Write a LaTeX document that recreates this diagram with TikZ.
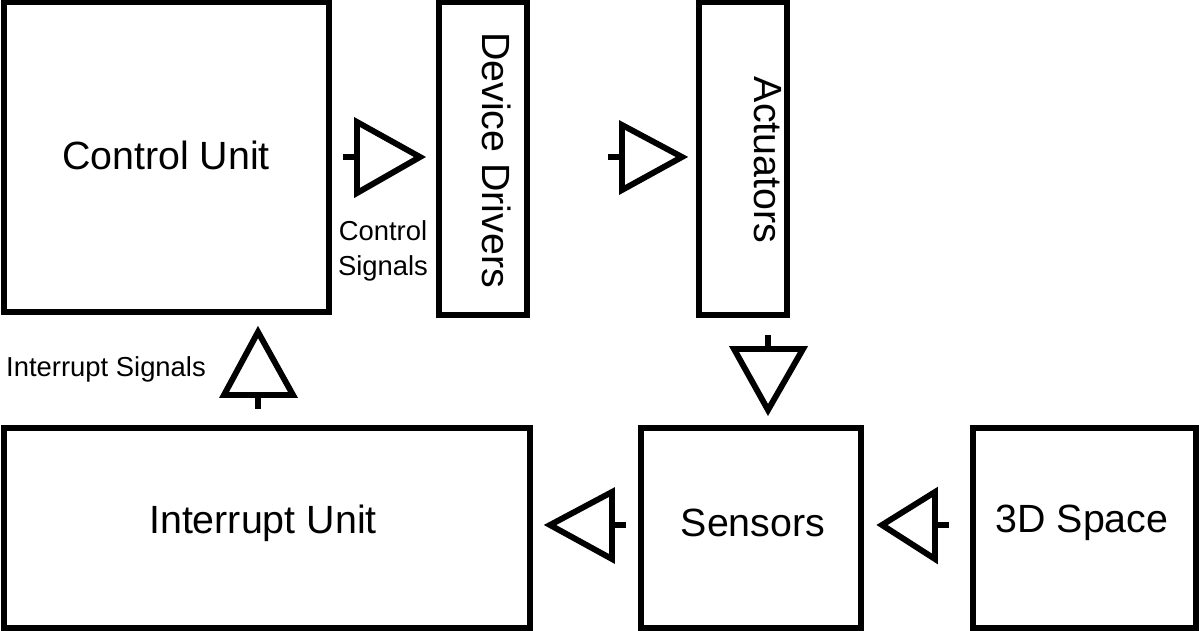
\documentclass[tikz,border=0pt]{standalone}
\usepackage{fontspec}
\setmainfont{Liberation Sans}
\begin{document}
\begin{tikzpicture}[x=0.025cm,y=-0.025cm,
  box/.style={draw,line width=3.6pt},
  txt/.style={font=\fontsize{28}{33}\selectfont},
  lbl/.style={font=\fontsize{19.5}{25}\selectfont,align=center},
  tri/.style={draw,line width=4.2pt,line join=miter},
  stem/.style={draw,line width=4.2pt}]
\useasboundingbox (0,0) rectangle (1200,630);
\draw[box] (4,2) rectangle (329,312);
\node[txt] (cu) at (166,155) {Control Unit};
\draw[box] (439,2) rectangle (527,315);
\node[txt,rotate=-90] (dd) at (497,160) {Device Drivers};
\draw[box] (699,2) rectangle (787,315);
\node[txt,rotate=-90] (ac) at (768,160) {Actuators};
\draw[box] (4,428) rectangle (530,628);
\node[txt] (iu) at (263,523) {Interrupt Unit};
\draw[box] (641,428) rectangle (861,628);
\node[txt] (se) at (753,523) {Sensors};
\draw[box] (973,428) rectangle (1196,628);
\node[txt] (sp) at (1082,523) {3D Space};
% arrows
\draw[stem] (343,157) -- (357,157);
\draw[tri] (357,122) -- (420,157) -- (357,193) -- cycle;
\draw[stem] (608,157) -- (622,157);
\draw[tri] (622,125) -- (682,157) -- (622,190) -- cycle;
\draw[stem] (768,335) -- (768,349);
\draw[tri] (734,349) -- (768,410) -- (803,349) -- cycle;
\draw[stem] (258,395) -- (258,409);
\draw[tri] (224,395) -- (258,332) -- (293,395) -- cycle;
\draw[stem] (612,525) -- (626,525);
\draw[tri] (612,492) -- (550,525) -- (612,559) -- cycle;
\draw[stem] (935,525) -- (949,525);
\draw[tri] (935,492) -- (882,525) -- (935,559) -- cycle;
\node[lbl] (cs) at (383,251) {Control\\Signals};
\node[lbl] (is) at (106,369) {Interrupt Signals};
\end{tikzpicture}
\end{document}
